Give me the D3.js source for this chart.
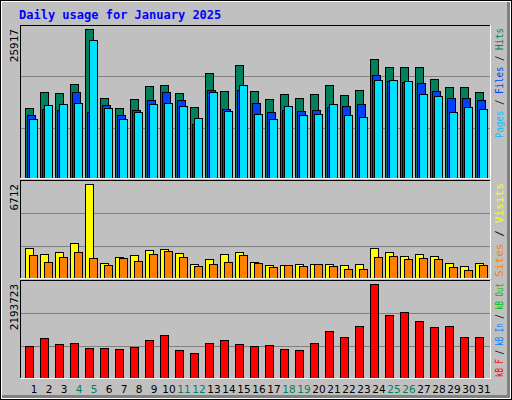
<!DOCTYPE html>
<html><head><meta charset="utf-8">
<script src="https://d3js.org/d3.v7.min.js"></script>
<style>body{margin:0;background:#fff}</style>
</head><body><svg id="c" width="512" height="400"></svg>
<script>
const days = d3.range(1, 32);
const weekendDays = [4,5,11,12,18,19,25,26];
const hits  = [12165,14986,14809,16396,25917,13928,12165,13751,16043,16220,14809,12341,18335,15162,19569,15162,13751,14633,13928,14633,16220,14457,15338,20627,19393,19393,19393,17277,15867,15867,14986];
const files = [10931,11988,11812,14986,11460,12694,10931,11812,13575,14986,13575,9344,15338,11988,15338,13046,11460,11812,11636,11812,12341,12517,12870,17983,16925,16749,16572,15162,13928,13928,13575];
const pages = [10225,12694,12870,13046,23977,12165,10225,11460,12870,13046,12517,10402,14986,11636,16220,11107,10225,12517,10931,11107,12870,10931,10578,17101,17101,16925,14633,14280,11460,12341,11988];
const visits = [2115,1682,1827,2476,6712,1105,1466,1610,1971,2043,1754,1032,1321,1682,1827,1177,960,960,1032,1032,1032,960,1032,2115,1827,1538,1682,1538,1105,888,1105];
const sites  = [1610,1177,1466,1827,1393,960,1393,1249,1682,1899,1466,888,1032,1177,1610,1105,816,960,888,1032,888,671,671,1466,1538,1321,1393,1321,816,599,960];
const kbytes = [752000,944000,800000,824000,704000,704000,680000,728000,896000,992000,656000,584000,824000,896000,800000,752000,776000,680000,656000,824000,1088000,968000,1209000,2193723,1473000,1545000,1329000,1185000,1209000,968000,968000];

const svg = d3.select('#c');
const mono = "'DejaVu Sans Mono', monospace";
svg.append('rect').attr('x',0).attr('y',0).attr('width',512).attr('height',400).attr('fill','#000');
svg.append('rect').attr('x',1).attr('y',1).attr('width',510).attr('height',398).attr('fill','#fff');
svg.append('rect').attr('x',2).attr('y',2).attr('width',508).attr('height',396).attr('fill','#808080');
svg.append('rect').attr('x',2).attr('y',2).attr('width',505).attr('height',393).attr('fill','#C0C0C0');

svg.append('text').attr('x',19).attr('y',19).attr('font-family',mono).attr('font-weight','bold')
  .attr('font-size',12).attr('fill','#0000FF').text('Daily usage for January 2025');

const step = 15;
const xs = d => 25 + (d-1)*step;

function panel(top, bottom, max, series, label, labelParts, labelLen){
  svg.append('rect').attr('x',20).attr('y',top).attr('width',471).attr('height',bottom-top).attr('fill','#C0C0C0');
  const y = d3.scaleLinear().domain([0,max]).range([bottom-1, top+4]);
  const h = bottom-top;
  [1/3,2/3].forEach(f=>{
    svg.append('line').attr('x1',21).attr('x2',490).attr('y1',Math.round(top+h*f)+0.5).attr('y2',Math.round(top+h*f)+0.5)
      .attr('stroke','#808080').attr('stroke-width',1);
  });
  series.forEach(s=>{
    svg.append('g').selectAll('rect').data(s.values).join('rect')
      .attr('x',(v,i)=>xs(days[i])+s.off+0.5).attr('y',v=>Math.round(y(v))+0.5)
      .attr('width',s.w).attr('height',v=>bottom-1-Math.round(y(v)))
      .attr('fill',s.color).attr('stroke','#000').attr('stroke-width',1);
  });
  svg.append('line').attr('x1',20).attr('x2',491).attr('y1',top+0.5).attr('y2',top+0.5).attr('stroke','#000');
  svg.append('line').attr('x1',20.5).attr('x2',20.5).attr('y1',top).attr('y2',bottom).attr('stroke','#000');
  svg.append('line').attr('x1',20).attr('x2',491).attr('y1',bottom-0.5).attr('y2',bottom-0.5).attr('stroke','#fff');
  svg.append('line').attr('x1',490.5).attr('x2',490.5).attr('y1',top).attr('y2',bottom).attr('stroke','#fff');
  svg.append('text').attr('transform',`translate(18,${top+4}) rotate(-90)`).attr('text-anchor','end')
    .attr('font-family',mono).attr('font-size',11).attr('fill','#000').text(label);
  const t = svg.append('text').attr('transform',`translate(503,${top+3+labelLen}) rotate(-90)`)
    .attr('font-family',mono).attr('font-size',10)
    .attr('textLength',labelLen).attr('lengthAdjust','spacingAndGlyphs');
  labelParts.forEach(p=>t.append('tspan').attr('fill',p[1]).text(p[0]));
}

panel(25,179,d3.max(hits),[
  {values:hits,off:0,w:8,color:'#00805C'},
  {values:files,off:2,w:8,color:'#0040FF'},
  {values:pages,off:4,w:8,color:'#00E0FF'}],
  String(d3.max(hits)),
  [['Pages','#00C0FF'],[' / ','#000'],['Files','#0040FF'],[' / ','#000'],['Hits','#00805C']], 110);
panel(180,279,d3.max(visits),[
  {values:visits,off:0,w:8,color:'#FFFF00'},
  {values:sites,off:4,w:8,color:'#FF8000'}],
  String(d3.max(visits)),
  [['Sites','#FF8000'],[' / ','#000'],['Visits','#FFFF00']], 94);
panel(280,379,d3.max(kbytes),[
  {values:kbytes,off:0,w:8,color:'#FF0000'}],
  String(d3.max(kbytes)),
  [['kB F','#FF0000'],[' / ','#000'],['kB In','#0080FF'],[' / ','#000'],['kB Out','#00C000']], 94);

svg.append('g').selectAll('text').data(days).join('text')
  .attr('x',d=>xs(d)+9).attr('y',393).attr('text-anchor','middle')
  .attr('font-family',"'DejaVu Sans', sans-serif").attr('font-size',10.5)
  .attr('fill',d=>weekendDays.includes(d)?'#00805C':'#000').text(d=>d);
</script></body></html>
